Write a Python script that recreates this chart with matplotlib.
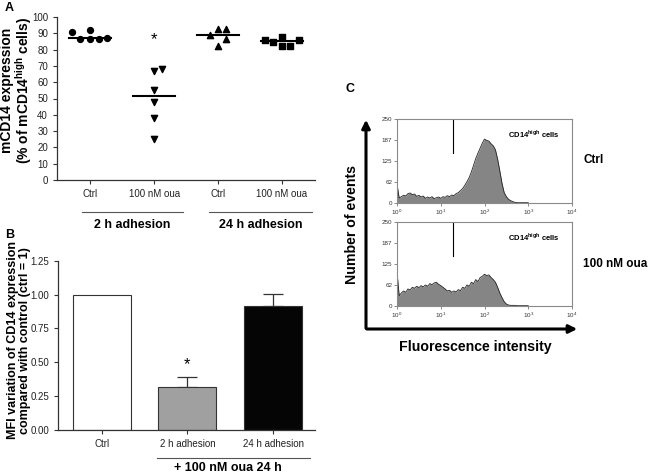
import matplotlib
matplotlib.use("Agg")
import matplotlib.pyplot as plt
import matplotlib.transforms as mtransforms
from matplotlib.patches import FancyArrowPatch
import numpy as np

plt.rcParams['font.family'] = ['Liberation Sans', 'DejaVu Sans']
plt.rcParams['mathtext.fontset'] = 'custom'
plt.rcParams['mathtext.rm'] = 'Liberation Sans'
plt.rcParams['mathtext.bf'] = 'Liberation Sans:bold'

# ---- panel A: % mCD14high cells (dot plot) ----
a_labels = ['Ctrl', '100 nM oua', 'Ctrl', '100 nM oua']
ctrl_2h = [90.8, 86.7, 91.8, 86.7, 86.7, 87.3]
ctrl_2h_jit = [-0.29, -0.16, 0.0, 0.0, 0.13, 0.26]
oua_2h = [67, 68, 55, 48, 38, 25]
oua_2h_jit = [0.0, 0.13, 0.0, 0.0, 0.0, 0.0]
ctrl_24h = [89, 92.6, 92.6, 82, 86.5]
ctrl_24h_jit = [-0.13, 0.0, 0.13, 0.0, 0.13]
oua_24h = [86, 84.4, 87.7, 82, 82, 86]
oua_24h_jit = [-0.27, -0.14, 0.0, 0.0, 0.13, 0.27]

# ---- panel B: MFI variation ----
b_labels = ['Ctrl', '2 h adhesion', '24 h adhesion']
b_values = [1.0, 0.315, 0.916]
b_err = [0.0, 0.08, 0.087]
b_colors = ['white', '#a0a0a0', '#050505']

# ---- panel C: flow histograms (log10 fluorescence, step 0.05 decade) ----
hist_ctrl = [55, 14, 18, 22, 20, 27, 29, 24, 26, 19,
             22, 17, 20, 13, 17, 14, 18, 12, 15, 17,
             13, 18, 16, 21, 18, 23, 21, 27, 30, 36,
             42, 52, 63, 75, 92, 112, 132, 148, 163, 178,
             190, 186, 184, 176, 170, 158, 130, 95, 58, 30,
             18, 10, 6, 3, 1, 0, 0, 0, 0, 0, 0]
hist_oua = [100, 30, 38, 44, 40, 50, 47, 55, 52, 58,
            54, 60, 56, 62, 58, 66, 63, 68, 70, 64,
            60, 55, 50, 44, 46, 40, 44, 41, 48, 45,
            55, 52, 62, 58, 70, 66, 78, 72, 84, 88,
            94, 90, 92, 84, 78, 70, 55, 38, 24, 12,
            5, 2, 1, 1, 1, 0, 0, 0, 0, 0, 0]
gate_x = 19
hist_names = ['Ctrl', '100 nM oua']

W, H = 651, 474
fig = plt.figure(figsize=(6.51, 4.74), dpi=100)


def box(x0, y0, x1, y1):
    return [x0 / W, 1 - y1 / H, (x1 - x0) / W, (y1 - y0) / H]


def style(ax):
    for s in ['top', 'right']:
        ax.spines[s].set_visible(False)
    for s in ['left', 'bottom']:
        ax.spines[s].set_color('#333333')
        ax.spines[s].set_linewidth(0.9)
    ax.tick_params(colors='#333333', labelcolor='#222222', labelsize=7,
                   length=3, width=0.8)


# ---------------- A ----------------
axA = fig.add_axes(box(57, 17, 315, 180))
style(axA)
groups = [(ctrl_2h, ctrl_2h_jit, 'o', 18), (oua_2h, oua_2h_jit, 'v', 20),
          (ctrl_24h, ctrl_24h_jit, '^', 20), (oua_24h, oua_24h_jit, 's', 16)]
for i, (vals, jit, m, s) in enumerate(groups):
    axA.scatter(np.array(jit) + i, vals, marker=m, s=s, color='black', zorder=3)
    med = np.median(vals)
    axA.plot([i - 0.33, i + 0.33], [med, med], color='black', lw=1.5, zorder=2)
axA.text(1, 86, '*', ha='center', va='center', fontsize=12)
axA.set_xlim(-0.52, 3.52)
axA.set_ylim(0, 100)
axA.set_yticks(range(0, 101, 10))
axA.set_xticks(range(4))
axA.set_xticklabels(a_labels)
axA.set_ylabel('mCD14 expression\n(% of mCD14$^{\\mathbf{high}}$ cells)',
               fontsize=10, fontweight='bold', linespacing=0.9)
axA.yaxis.set_label_coords(-0.09, 0.55)
tA = mtransforms.blended_transform_factory(axA.transData, axA.transAxes)
axA.plot([-0.13, 1.45], [-0.196, -0.196], transform=tA, clip_on=False,
         color='#555555', lw=0.8)
axA.plot([1.86, 3.47], [-0.196, -0.196], transform=tA, clip_on=False,
         color='#555555', lw=0.8)
axA.text(0.65, -0.276, '2 h adhesion', transform=tA, ha='center', va='center',
         fontsize=9, fontweight='bold')
axA.text(2.67, -0.276, '24 h adhesion', transform=tA, ha='center', va='center',
         fontsize=9, fontweight='bold')
fig.text(5 / W, 1 - 8 / H, 'A', fontsize=9, fontweight='bold', va='center')

# ---------------- B ----------------
axB = fig.add_axes(box(58, 260.7, 315, 430))
style(axB)
xb = np.arange(len(b_values))
axB.bar(xb, b_values, width=0.68, color=b_colors, edgecolor='#333333',
        linewidth=0.8, zorder=2)
for x, v, e in zip(xb, b_values, b_err):
    if e > 0:
        axB.errorbar(x, v, yerr=[[0], [e]], fmt='none', ecolor='#333333',
                     elinewidth=0.9, capsize=7, capthick=0.9, zorder=1)
axB.text(1, 0.48, '*', ha='center', va='center', fontsize=12)
axB.set_xlim(-0.51, 2.49)
axB.set_ylim(0, 1.25)
axB.set_yticks([0, 0.25, 0.5, 0.75, 1.0, 1.25])
axB.set_yticklabels(['0.00', '0.25', '0.50', '0.75', '1.00', '1.25'])
axB.set_xticks(xb)
axB.set_xticklabels(b_labels)
axB.set_ylabel('MFI variation of CD14 expression\ncompared with control (ctrl = 1)',
               fontsize=9, fontweight='bold', linespacing=1.0)
axB.yaxis.set_label_coords(-0.105, 0.53)
tB = mtransforms.blended_transform_factory(axB.transData, axB.transAxes)
axB.plot([0.64, 2.43], [-0.165, -0.165], transform=tB, clip_on=False,
         color='#555555', lw=0.8)
axB.text(1.47, -0.226, '+ 100 nM oua 24 h', transform=tB, ha='center',
         va='center', fontsize=9, fontweight='bold')
fig.text(5 / W, 1 - 235 / H, 'B', fontsize=9, fontweight='bold', va='center')

# ---------------- C ----------------
for hist, (y0, y1), name, ny in zip([hist_ctrl, hist_oua],
                                    [(119, 202.7), (222, 305.7)],
                                    hist_names, [160, 264]):
    ax = fig.add_axes(box(397, y0, 572, y1))
    xs = 10 ** (np.arange(len(hist)) * 0.05)
    ax.fill_between(xs, hist, 0, color='#858585', lw=0, zorder=1)
    ax.plot(xs, hist, color='#222222', lw=0.6, zorder=2)
    ax.plot([gate_x, gate_x], [149, 250], color='black', lw=0.8)
    ax.text(0.78, 0.82, 'CD14$^{\\mathbf{high}}$ cells', transform=ax.transAxes,
            ha='center', va='center', fontsize=5.5, fontweight='bold')
    ax.set_xscale('log')
    ax.set_xlim(1, 1e4)
    ax.set_ylim(0, 250)
    ax.set_yticks([0, 62, 125, 187, 250])
    ax.set_xticks([1, 10, 100, 1000, 10000])
    ax.minorticks_off()
    for s in ax.spines.values():
        s.set_color('#8a8a8a')
        s.set_linewidth(0.8)
    ax.tick_params(labelsize=4.5, length=2, width=0.6, colors='#777777',
                   labelcolor='#333333', pad=1.5)
    fig.text(583 / W, 1 - ny / H, name, fontsize=8.5, fontweight='bold',
             va='center')

fig.add_artist(FancyArrowPatch((366 / W, 1 - 331 / H), (366 / W, 1 - 117 / H),
                               transform=fig.transFigure, arrowstyle='-|>',
                               mutation_scale=12, lw=2.2, color='black'))
fig.add_artist(FancyArrowPatch((364 / W, 1 - 329 / H), (580 / W, 1 - 329 / H),
                               transform=fig.transFigure, arrowstyle='-|>',
                               mutation_scale=12, lw=2.2, color='black'))
fig.text(352 / W, 1 - 225 / H, 'Number of events', rotation=90, fontsize=10.2,
         fontweight='bold', ha='center', va='center')
fig.text(475 / W, 1 - 347 / H, 'Fluorescence intensity', fontsize=10.2,
         fontweight='bold', ha='center', va='center')
fig.text(345 / W, 1 - 89 / H, 'C', fontsize=9, fontweight='bold', va='center')

fig.savefig('out.png', dpi=100)
